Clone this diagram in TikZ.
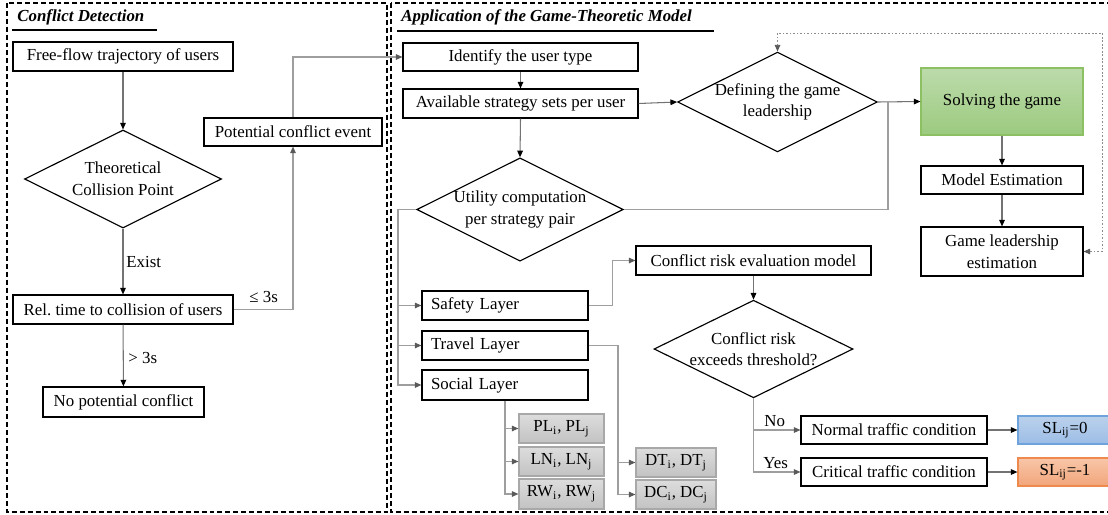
\documentclass[tikz,border=0pt]{standalone}
\usepackage{fontspec}
\setmainfont{Liberation Serif}
\usetikzlibrary{arrows.meta,shapes.geometric}
\definecolor{sgtop}{HTML}{BCDBAB}
\definecolor{sgbot}{HTML}{9CCA7F}
\definecolor{sgline}{HTML}{8CC063}
\definecolor{bltop}{HTML}{BAD1EC}
\definecolor{blbot}{HTML}{9DBDE6}
\definecolor{blline}{HTML}{6FA3DC}
\definecolor{ortop}{HTML}{F8C6A8}
\definecolor{orbot}{HTML}{F2A57B}
\definecolor{orline}{HTML}{EE8A4E}
\definecolor{grtop}{HTML}{DDDDDD}
\definecolor{grbot}{HTML}{C2C2C2}
\definecolor{grline}{HTML}{A8A8A8}
\frenchspacing
\begin{document}
\begin{tikzpicture}[x=0.02cm,y=-0.02cm,
  every node/.style={font=\fontsize{9.6}{12.3}\selectfont},
  box/.style={draw=black, line width=0.65pt, fill=white, inner sep=0pt, align=center},
  lay/.style={box, minimum width=3.32cm, minimum height=0.58cm, text width=2.96cm, align=left, inner xsep=0.18cm},
  gbox/.style={box, draw=grline, top color=grtop, bottom color=grbot, minimum height=0.58cm},
  dia/.style={draw=black, line width=0.65pt, diamond, aspect=2, inner sep=0pt, align=center, fill=white},
  dk/.style={draw=black!55, line width=0.6pt, -{Triangle[length=3.8pt,width=3.2pt,color=black]}},
  lg/.style={draw=black!38, line width=0.6pt},
  lga/.style={lg, -{Triangle[length=3.8pt,width=3.2pt,color=black!65]}},
  frame/.style={draw=black, line width=0.6pt, dash pattern=on 2.8pt off 1.7pt},
  lbl/.style={anchor=west, inner sep=0pt}]
\useasboundingbox (0,0) rectangle (1108,514);
\clip (0,0) rectangle (1108,514);

% section frames and headings
\draw[frame] (7,3) rectangle (387,512);
\draw[frame] (391,3) rectangle (1116,512);
\node[lbl, font=\fontsize{9.6}{12.3}\selectfont\bfseries\itshape] (h1) at (17,17) {Conflict Detection};
\draw[line width=0.9pt] (12,30) -- (157,30);
\node[lbl, font=\fontsize{9.6}{12.3}\selectfont\bfseries\itshape] (h2) at (401,17) {Application of the Game-Theoretic Model};
\draw[line width=0.9pt] (397,31) -- (714,31);

% conflict detection
\node[box, minimum width=4.40cm, minimum height=0.58cm] (ff) at (123,56.5) {Free-flow trajectory of users};
\node[dia, minimum width=3.94cm, minimum height=1.96cm] (cp) at (123,179) {Theoretical\\Collision Point};
\node[box, minimum width=4.40cm, minimum height=0.58cm] (rt) at (123,309.5) {Rel. time to collision of users};
\node[box, minimum width=3.22cm, minimum height=0.60cm] (np) at (123.5,402) {No potential conflict};
\node[box, minimum width=3.56cm, minimum height=0.56cm] (pc) at (293,132) {Potential conflict event};

% game-theoretic model
\node[box, minimum width=4.70cm, minimum height=0.56cm] (id) at (520.5,57) {Identify the user type};
\node[box, minimum width=4.70cm, minimum height=0.58cm] (av) at (520.5,103.5) {Available strategy sets per user};
\node[dia, minimum width=3.98cm, minimum height=1.94cm] (dg) at (777.5,102) {Defining the game\\leadership};
\node[box, draw=sgline, top color=sgtop, bottom color=sgbot, minimum width=3.24cm, minimum height=1.34cm] (sg) at (1002,101.5) {Solving the game};
\node[box, minimum width=3.24cm, minimum height=0.56cm] (me) at (1002,180) {Model Estimation};
\node[box, minimum width=3.24cm, minimum height=0.98cm] (gl) at (1002,251.5) {Game leadership\\estimation};
\node[dia, minimum width=3.96cm, minimum height=1.94cm] (ut) at (520,209.5) {Utility computation\\per strategy pair};
\node[lay] (sl) at (505,305.5) {Safety Layer};
\node[lay] (tl) at (505,345.5) {Travel Layer};
\node[lay, minimum height=0.60cm] (so) at (505,385) {Social Layer};
\node[box, minimum width=4.70cm, minimum height=0.58cm] (cr) at (753.5,260.5) {Conflict risk evaluation model};
\node[dia, minimum width=3.98cm, minimum height=1.92cm] (ct) at (753.5,349) {Conflict risk\\exceeds threshold?};
\node[box, minimum width=3.72cm, minimum height=0.56cm] (nt) at (894,430) {Normal traffic condition};
\node[box, minimum width=3.72cm, minimum height=0.56cm] (cc) at (894,472) {Critical traffic condition};
\node[box, draw=blline, top color=bltop, bottom color=blbot, minimum width=1.88cm, minimum height=0.56cm] (s0) at (1065,430) {SL\textsubscript{ij}=0};
\node[box, draw=orline, top color=ortop, bottom color=orbot, minimum width=1.88cm, minimum height=0.56cm] (s1) at (1065,472) {SL\textsubscript{ij}=-1};
\node[gbox, minimum width=1.70cm] (pl) at (561.5,428.5) {PL\textsubscript{i}, PL\textsubscript{j}};
\node[gbox, minimum width=1.70cm] (ln) at (561.5,461.5) {LN\textsubscript{i}, LN\textsubscript{j}};
\node[gbox, minimum width=1.70cm, minimum height=0.60cm] (rw) at (561.5,494) {RW\textsubscript{i}, RW\textsubscript{j}};
\node[gbox, minimum width=1.60cm] (dt) at (676,462.5) {DT\textsubscript{i}, DT\textsubscript{j}};
\node[gbox, minimum width=1.60cm] (dc) at (676,494.5) {DC\textsubscript{i}, DC\textsubscript{j}};

% junction points of the routed connectors
\coordinate (j1) at (888,102);
\coordinate (fb) at (1102,33);
\coordinate (lb) at (398,385);
\coordinate (tb) at (618,494.5);

% connectors: conflict detection
\draw[dk] (ff) -- (cp);
\draw[dk] (cp) -- (rt);
\draw[dk] (rt) -- (np);
\draw[lga] (rt.east) -| (pc.south);
\draw[lga] (pc.north) |- (id.west);
\node[lbl] (lex) at (126,262) {Exist};
\node[lbl] (lgt) at (128,358) {> 3s};
\node[lbl] (lle) at (249,297) {≤ 3s};

% connectors: game-theoretic model
\draw[dk] (id) -- (av);
\draw[dk] (av.east) -- (dg.west);
\draw[dk] (av.south) -- (ut.north);
\draw[dk] (dg.east) -- (sg.west);
\draw[lg] (ut.east) -| (j1);
\draw[dk] (sg) -- (me);
\draw[dk] (me) -- (gl);
\draw[draw=black!45, line width=0.5pt, dash pattern=on 1pt off 1pt,
  {Triangle[length=3.8pt,width=3.2pt,color=black!65]}-{Triangle[length=3.8pt,width=3.2pt,color=black!65]}]
  (gl.east) -| (fb) -| (dg.north);
\draw[lga] (ut.west) -| (lb) -- (so.west);
\draw[lga] (lb |- sl.west) -- (sl.west);
\draw[lga] (lb |- tl.west) -- (tl.west);
\draw[lga] (sl.east) -- ++(24,0) |- (cr.west);
\draw[dk] (cr) -- (ct);
\draw[lga] (ct.south) |- (cc.west);
\draw[lga] (ct.south |- nt.west) -- (nt.west);
\node[lbl] (lno) at (764,421) {No};
\node[lbl] (lyes) at (763,463) {Yes};
\draw[dk] (nt) -- (s0);
\draw[dk] (cc) -- (s1);
\draw[lga] (tl.east) -| (tb) -- (dc.west);
\draw[lga] (tb |- dt.west) -- (dt.west);
\draw[lga] (so.south) |- (rw.west);
\draw[lga] (so.south |- pl.west) -- (pl.west);
\draw[lga] (so.south |- ln.west) -- (ln.west);
\end{tikzpicture}
\end{document}
